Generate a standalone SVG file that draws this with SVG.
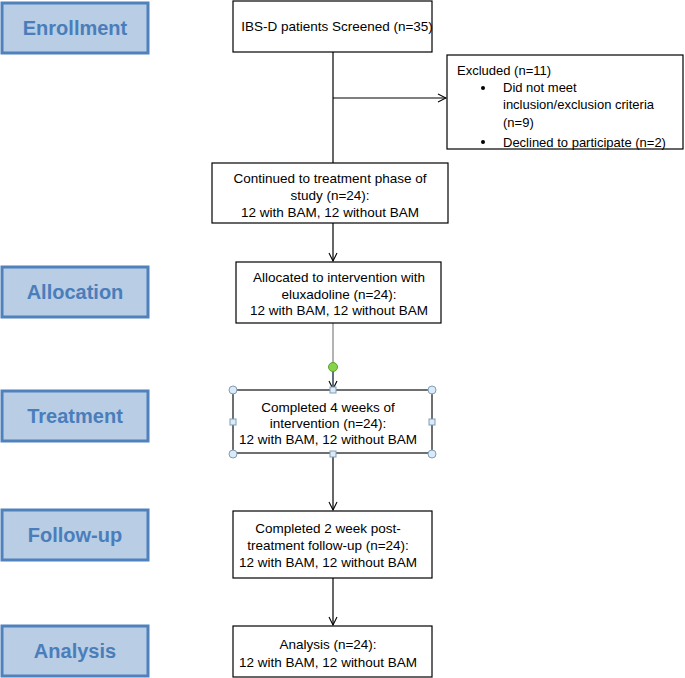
<svg xmlns="http://www.w3.org/2000/svg" width="685" height="678" viewBox="0 0 685 678">
<defs>
<style>
.lab rect{fill:#B9CDE5;stroke:#4F81BD;stroke-width:3}
.lab text{font-family:"Liberation Sans",Arial,sans-serif;font-weight:bold;font-size:20px;fill:#4A7EBB;text-anchor:middle}
.box rect{fill:#fff;stroke:#000;stroke-width:1.2}
.box text{font-family:"Liberation Sans",Arial,sans-serif;font-size:13.5px;fill:#000;text-anchor:middle}
.box.exc text{text-anchor:start;font-size:13px}
.conn line{stroke:#000;stroke-width:1.2}
.box .hc,.hc{fill:#DCE9F6;stroke:#7F9DB9;stroke-width:1}
</style>
<marker id="ah" markerWidth="10" markerHeight="10" refX="9" refY="5" orient="auto" markerUnits="userSpaceOnUse">
<path d="M1,1 L9,5 L1,9" fill="none" stroke="#000" stroke-width="1.1"/>
</marker>
</defs>
<rect width="685" height="678" fill="#fff"/>

<g id="lab-enrollment" class="lab"><rect x="2" y="3" width="146" height="50"/><text x="75" y="35">Enrollment</text></g>
<g id="lab-allocation" class="lab"><rect x="2" y="267" width="146" height="50"/><text x="75" y="299">Allocation</text></g>
<g id="lab-treatment" class="lab"><rect x="2" y="391" width="146" height="50"/><text x="75" y="423">Treatment</text></g>
<g id="lab-followup" class="lab"><rect x="2" y="510" width="146" height="50"/><text x="75" y="542">Follow-up</text></g>
<g id="lab-analysis" class="lab"><rect x="2" y="626" width="146" height="50"/><text x="75" y="658">Analysis</text></g>

<g id="connectors" class="conn">
<line x1="333" y1="52" x2="333" y2="163"/>
<line x1="333" y1="98" x2="446" y2="98" marker-end="url(#ah)"/>
<line x1="333" y1="223" x2="333" y2="261" marker-end="url(#ah)"/>
<line x1="333" y1="323" x2="333" y2="367" style="stroke:#808080"/>
<line x1="333" y1="367" x2="333" y2="389" style="stroke:#3A4A5A;stroke-width:1.6" marker-end="url(#ah)"/>
<line x1="333" y1="454" x2="333" y2="510" marker-end="url(#ah)"/>
<line x1="333" y1="578" x2="333" y2="625" marker-end="url(#ah)"/>
</g>

<g id="n-screened" class="box"><rect x="233" y="1" width="199" height="51"/><text x="337" y="31">IBS-D patients Screened (n=35)</text></g>

<g id="n-excluded" class="box exc"><rect x="447" y="55" width="236" height="94"/>
<text x="457" y="75">Excluded (n=11)</text>
<circle cx="483" cy="88" r="2" fill="#000"/>
<text x="503" y="92">Did not meet</text>
<text x="503" y="109">inclusion/exclusion criteria</text>
<text x="503" y="127">(n=9)</text>
<circle cx="483" cy="142" r="2" fill="#000"/>
<text x="503" y="147">Declined to participate (n=2)</text>
</g>

<g id="n-continued" class="box"><rect x="212" y="163" width="236" height="60"/>
<text x="330" y="183">Continued to treatment phase of</text>
<text x="330" y="200">study (n=24):</text>
<text x="330" y="217">12 with BAM, 12 without BAM</text></g>

<g id="n-allocated" class="box"><rect x="236" y="262" width="205" height="61"/>
<text x="339" y="282">Allocated to intervention with</text>
<text x="339" y="299">eluxadoline (n=24):</text>
<text x="339" y="315">12 with BAM, 12 without BAM</text></g>

<g id="n-completed4" class="box"><rect x="233" y="390" width="199" height="63" style="stroke:#333;stroke-width:1.4"/>
<text x="328" y="412">Completed 4 weeks of</text>
<text x="328" y="428">intervention (n=24):</text>
<text x="328" y="444">12 with BAM, 12 without BAM</text>
<circle class="hc" cx="233" cy="390" r="4"/><circle class="hc" cx="432" cy="390" r="4"/>
<circle class="hc" cx="233" cy="454" r="4"/><circle class="hc" cx="432" cy="454" r="4"/>
<rect class="hc" x="330" y="387" width="6" height="6"/><rect class="hc" x="330" y="451" width="6" height="6"/>
<rect class="hc" x="230" y="419" width="6" height="6"/><rect class="hc" x="429" y="419" width="6" height="6"/>
<circle cx="333" cy="367" r="4.5" fill="#86D448" stroke="#5E9E2E" stroke-width="1"/>
</g>

<g id="n-followup" class="box"><rect x="233" y="511" width="199" height="67"/>
<text x="328" y="533">Completed 2 week post-</text>
<text x="328" y="550">treatment follow-up (n=24):</text>
<text x="328" y="567">12 with BAM, 12 without BAM</text></g>

<g id="n-analysis" class="box"><rect x="233" y="626" width="199" height="51"/>
<text x="328" y="649">Analysis (n=24):</text>
<text x="328" y="667">12 with BAM, 12 without BAM</text></g>
</svg>
